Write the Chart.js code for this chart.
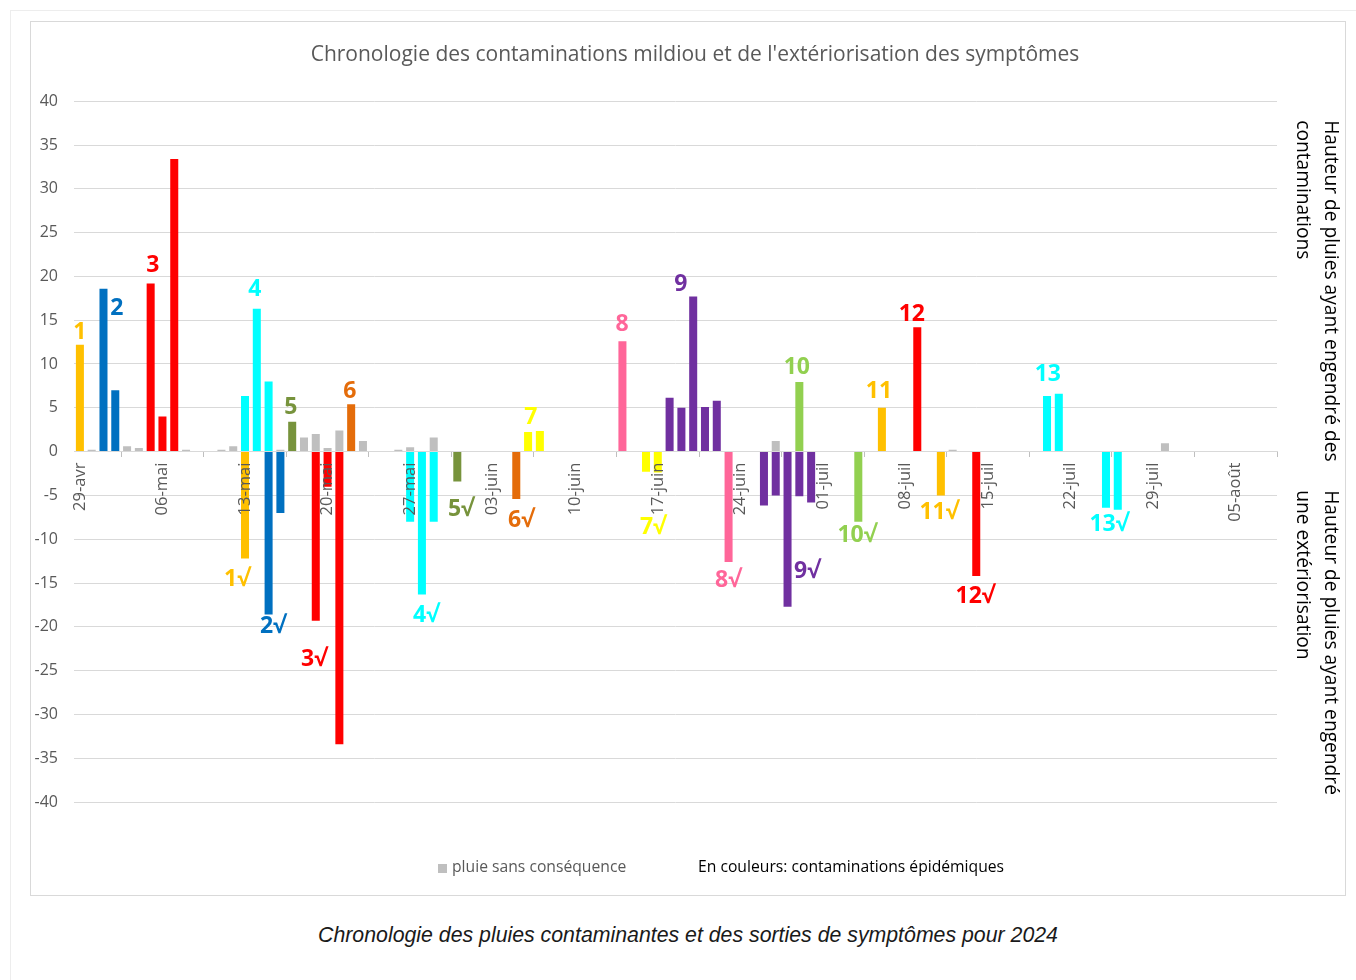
<!DOCTYPE html>
<html>
<head>
<meta charset="utf-8">
<script src="https://cdn.jsdelivr.net/npm/chart.js@4.4.1/dist/chart.umd.min.js"></script>
<style>
  body { margin: 0; background: #fff; }
  #page { position: absolute; left: 10px; top: 10px; width: 1360px; height: 980px; border-left: 1px solid #EDEDED; border-top: 1px solid #EDEDED; }
  #box { position: absolute; left: 30px; top: 21px; width: 1316px; height: 875px; box-sizing: border-box; border: 1px solid #D9D9D9; }
  #caption { position: absolute; left: 30px; top: 923px; width: 1316px; text-align: center;
    font-family: 'Liberation Sans', Arial, sans-serif; font-style: italic; font-size: 21.3px; color: #1a1a1a; }
</style>
</head>
<body>
<div id="page"></div>
<div id="box"><canvas id="chart" width="1314" height="873"></canvas></div>
<div id="caption">Chronologie des pluies contaminantes et des sorties de symptômes pour 2024</div>
<script>
// categories: every day from 29 april to 8 august
var monthNames = ['avr', 'mai', 'juin', 'juil', 'août'];
var monthLengths = [30, 31, 30, 31, 31];
var dayLabels = [];
var m = 0, d = 29;
for (var i = 0; i < 102; i++) {
  dayLabels.push((d < 10 ? '0' + d : '' + d) + '-' + monthNames[m]);
  d++;
  if (d > monthLengths[m]) { d = 1; m++; }
}

var yTicks = [-40, -35, -30, -25, -20, -15, -10, -5, 0, 5, 10, 15, 20, 25, 30, 35, 40];

// rain heights (mm): positive = contaminating rain, negative = symptom appearance
var rainNoEffect = [['30-avr', 0.2], ['03-mai', 0.6], ['04-mai', 0.4], ['08-mai', 0.2], ['11-mai', 0.2],
  ['12-mai', 0.6], ['16-mai', 0.2], ['18-mai', 1.6], ['19-mai', 2.0], ['20-mai', 0.4], ['21-mai', 2.4],
  ['23-mai', 1.2], ['26-mai', 0.2], ['27-mai', 0.5], ['29-mai', 1.6], ['27-juin', 1.2], ['12-juil', 0.2],
  ['30-juil', 0.95]];
var contam1 = [['29-avr', 12.2], ['13-mai', -12.2]];
var contam2 = [['01-mai', 18.6], ['02-mai', 7.0], ['15-mai', -18.6], ['16-mai', -7.0]];
var contam3 = [['05-mai', 19.2], ['06-mai', 4.0], ['07-mai', 33.4], ['19-mai', -19.3], ['20-mai', -4.0], ['21-mai', -33.4]];
var contam4 = [['13-mai', 6.35], ['14-mai', 16.3], ['15-mai', 8.0], ['27-mai', -8.0], ['28-mai', -16.3], ['29-mai', -8.0]];
var contam5 = [['17-mai', 3.4], ['31-mai', -3.4]];
var contam6 = [['22-mai', 5.4], ['05-juin', -5.4]];
var contam7 = [['06-juin', 2.25], ['07-juin', 2.35], ['16-juin', -2.3], ['17-juin', -2.4]];
var contam8 = [['14-juin', 12.6], ['23-juin', -12.6]];
var contam9 = [['18-juin', 6.15], ['19-juin', 5.0], ['20-juin', 17.7], ['21-juin', 5.1], ['22-juin', 5.8],
  ['26-juin', -6.15], ['27-juin', -5.0], ['28-juin', -17.7], ['29-juin', -5.1], ['30-juin', -5.8]];
var contam10 = [['29-juin', 7.95], ['04-juil', -8.0]];
var contam11 = [['06-juil', 5.0], ['11-juil', -5.0]];
var contam12 = [['09-juil', 14.2], ['14-juil', -14.2]];
var contam13 = [['20-juil', 6.35], ['21-juil', 6.6], ['25-juil', -6.4], ['26-juil', -6.65]];

var contaminations = [contam1, contam2, contam3, contam4, contam5, contam6, contam7, contam8, contam9, contam10, contam11, contam12, contam13];
var contamColors = ['#FFC000', '#0070C0', '#FF0000', '#00FFFF', '#77933C', '#E46C0A', '#FFFF00',
  '#FF6699', '#7030A0', '#92D050', '#FFC000', '#FF0000', '#00FFFF'];

// number labels: [text, day index, height]
var upLabels = [['1', 0, 13.65], ['2', 3.14, 16.3], ['3', 6.19, 21.3], ['4', 14.84, 18.55], ['5', 17.89, 5.0],
  ['6', 22.89, 6.9], ['7', 38.24, 3.85], ['8', 45.96, 14.55], ['9', 50.96, 19.1], ['10', 60.79, 9.65],
  ['11', 67.75, 6.9], ['12', 70.54, 15.6], ['13', 82.07, 8.85]];
var downLabels = [['1√', 13.31, -14.6], ['2√', 16.36, -20.0], ['3√', 19.84, -23.75], ['4√', 29.34, -18.75],
  ['5√', 32.3, -6.55], ['6√', 37.39, -7.9], ['7√', 48.58, -8.7], ['8√', 54.94, -14.75], ['9√', 61.64, -13.7],
  ['10√', 65.88, -9.6], ['11√', 72.83, -7.0], ['12√', 75.89, -16.55], ['13√', 87.25, -8.35]];

function toPoints(pairs) {
  return pairs.map(function (p) { return { x: p[0], y: p[1] }; });
}

var datasets = [{
  label: 'pluie sans conséquence',
  data: toPoints(rainNoEffect),
  backgroundColor: '#BFBFBF'
}];
contaminations.forEach(function (c, k) {
  datasets.push({ label: 'contamination ' + (k + 1), data: toPoints(c), backgroundColor: contamColors[k] });
});

Chart.defaults.font.family = "'Open Sans', sans-serif";
Chart.defaults.color = '#595959';

var extras = {
  id: 'extras',
  afterDraw: function (chart) {
    var ctx = chart.ctx;
    var x = chart.scales.x, y = chart.scales.y, area = chart.chartArea;
    ctx.save();
    ctx.font = "bold 23px 'Open Sans'";
    ctx.textAlign = 'center';
    ctx.textBaseline = 'middle';
    upLabels.forEach(function (l, k) {
      ctx.fillStyle = contamColors[k];
      ctx.fillText(l[0], x.getPixelForValue(l[1]), y.getPixelForValue(l[2]));
    });
    downLabels.forEach(function (l, k) {
      ctx.fillStyle = contamColors[k];
      ctx.fillText(l[0], x.getPixelForValue(l[1]), y.getPixelForValue(l[2]));
    });

    // right side axis titles
    ctx.font = "19.2px 'Open Sans'";
    ctx.fillStyle = '#000';
    ctx.textAlign = 'left';
    function vtext(lines, top) {
      ctx.save();
      ctx.translate(area.right + 53, top);
      ctx.rotate(Math.PI / 2);
      lines.forEach(function (t, n) { ctx.fillText(t, 0, n * 28); });
      ctx.restore();
    }
    vtext(['Hauteur de pluies ayant engendré des', 'contaminations'], area.top + 19);
    vtext(['Hauteur de pluies ayant engendré', 'une extériorisation'], area.top + 389);

    // legend row
    var ly = area.bottom + 66;
    ctx.fillStyle = '#BFBFBF';
    ctx.fillRect(407, ly - 4, 9, 9);
    ctx.font = "15.7px 'Open Sans'";
    ctx.fillStyle = '#595959';
    ctx.fillText('pluie sans conséquence', 421, ly);
    ctx.fillStyle = '#000';
    ctx.fillText('En couleurs: contaminations épidémiques', 667, ly);
    ctx.restore();
  }
};

new Chart(document.getElementById('chart'), {
  type: 'bar',
  data: { labels: dayLabels, datasets: datasets },
  options: {
    responsive: false,
    animation: false,
    // negative right padding widens the title box so the title sits like in the original
    layout: { padding: { left: 0, right: -14, top: 0, bottom: 93 } },
    datasets: { bar: { categoryPercentage: 0.68, barPercentage: 1 } },
    plugins: {
      legend: { display: false },
      tooltip: { enabled: false },
      title: {
        display: true,
        text: "Chronologie des contaminations mildiou et de l'extériorisation des symptômes",
        color: '#595959',
        font: { size: 21, weight: 'normal' },
        padding: { top: 20, bottom: 34 }
      }
    },
    scales: {
      x: {
        stacked: true,
        position: { y: 0 },
        grid: { drawOnChartArea: false, drawTicks: true, tickLength: 5, color: '#BFBFBF', offset: true },
        border: { display: true, color: '#D9D9D9' },
        ticks: {
          z: 1,
          autoSkip: false,
          minRotation: 90,
          maxRotation: 90,
          padding: 6,
          font: { size: 16.5 },
          color: '#595959',
          callback: function (v, idx) { return idx % 7 === 0 ? dayLabels[idx] : null; }
        }
      },
      y: {
        stacked: true,
        min: yTicks[0],
        max: yTicks[yTicks.length - 1],
        afterFit: function (s) { s.width = 43; },
        afterBuildTicks: function (s) { s.ticks = yTicks.map(function (v) { return { value: v }; }); },
        grid: { color: '#D9D9D9', drawTicks: false },
        border: { display: false },
        ticks: { padding: 16, font: { size: 16 }, color: '#595959' }
      },
      // empty right axis: keeps room for the two rotated titles
      side: {
        position: 'right',
        display: true,
        afterFit: function (s) { s.width = 82; },
        grid: { display: false },
        border: { display: false },
        ticks: { display: false }
      }
    }
  },
  plugins: [extras]
});
</script>
</body>
</html>
